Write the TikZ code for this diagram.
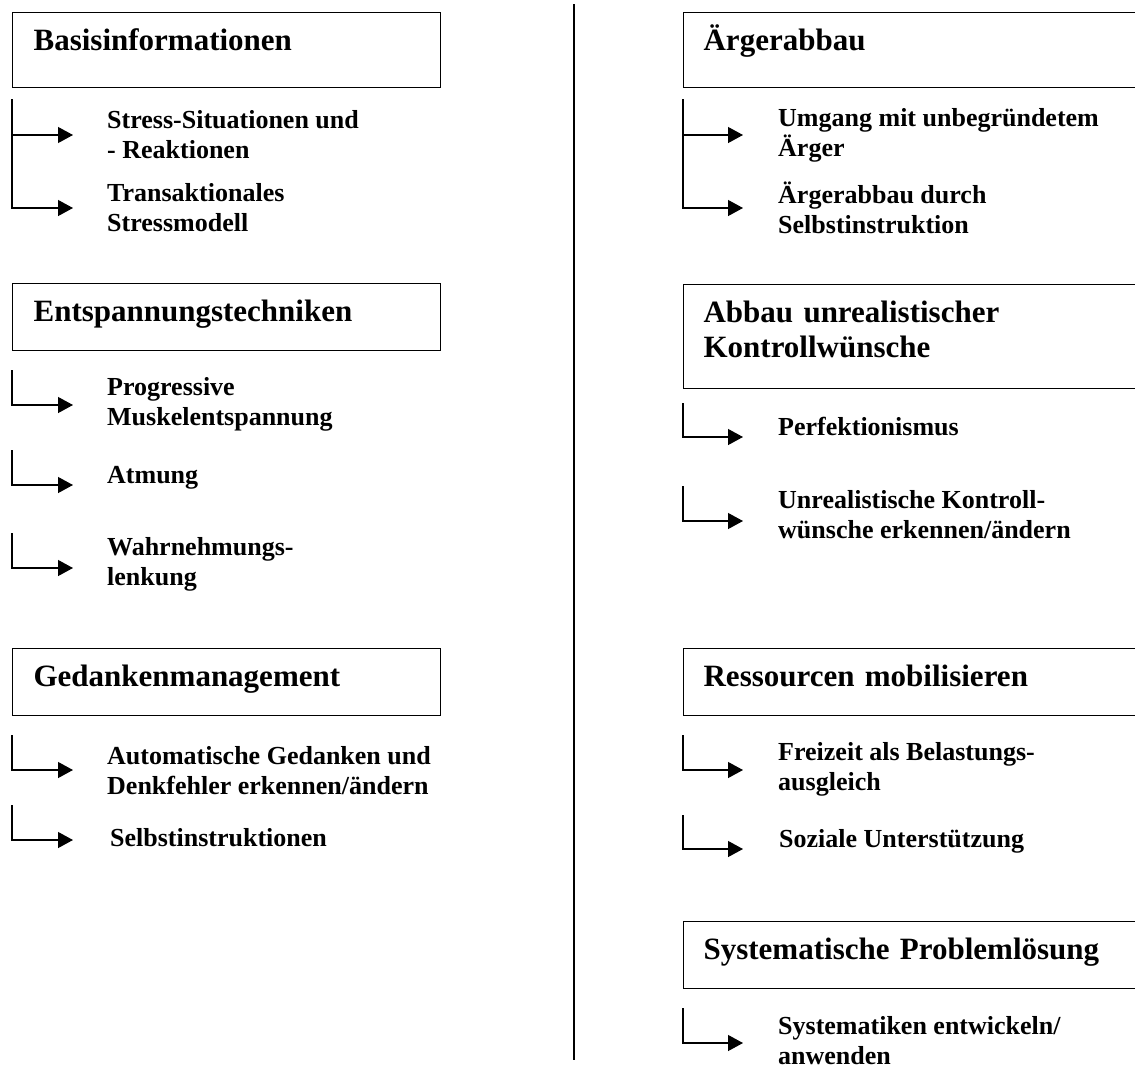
\documentclass[tikz,border=0pt]{standalone}
\usepackage{fontspec}
\setmainfont{Liberation Serif}
\usetikzlibrary{arrows.meta}
\begin{document}
\begin{tikzpicture}[x=1pt,y=-1pt,
  hbox/.style={draw, line width=1.2pt, anchor=north west, align=left, inner ysep=0pt,
    text height=38pt, font=\fontsize{31}{35}\selectfont\bfseries},
  lbox/.style={hbox, inner xsep=21pt, text width=386pt},
  rbox/.style={hbox, inner xsep=20pt, text width=440pt},
  sub/.style={align=left, inner sep=0pt, font=\fontsize{26}{30}\selectfont\bfseries},
  conn/.style={line width=1.2pt, -{Triangle[length=15pt,width=16pt]}},
  divider/.style={line width=1.3pt}]
\clip (0,0) rectangle (1135,1066);
\fill[white] (0,0) rectangle (1135,1066);

% ---------- left column ----------
\node[lbox, text depth=37pt] (b1) at (12,12) {Basisinformationen};
\node[lbox, text depth=29pt] (b2) at (12,283) {Entspannungstechniken};
\node[lbox, text depth=29pt] (b3) at (12,648) {Gedankenmanagement};

\node[sub, anchor=west] (s1) at (107,135) {Stress-Situationen und\\- Reaktionen};
\node[sub, anchor=west] (s2) at (107,208) {Transaktionales\\Stressmodell};
\node[sub, anchor=west] (s3) at (107,404) {Progressive\\Muskelentspannung};
\node[sub, anchor=base west] (s4) at (107,483) {Atmung};
\node[sub, anchor=west] (s5) at (107,564) {Wahrnehmungs-\\lenkung};
\node[sub, anchor=west] (s6) at (107,771) {Automatische Gedanken und\\Denkfehler erkennen/ändern};
\node[sub, anchor=base west] (s7) at (110,846) {Selbstinstruktionen};

\coordinate (c1) at (12,99);
\coordinate (c3) at (12,370);
\coordinate (c4) at (12,450);
\coordinate (c5) at (12,533);
\coordinate (c6) at (12,735);
\coordinate (c7) at (12,805);

\draw[conn] (c1) |- ([xshift=-34pt]s1.west);
\draw[conn] (c1) |- ([xshift=-34pt]s2.west);
\draw[conn] (c3) |- ([xshift=-34pt,yshift=-1pt]s3.west);
\draw[conn] (c4) |- ([xshift=-34pt,yshift=-2pt]s4.base west);
\draw[conn] (c5) |- ([xshift=-34pt,yshift=-4pt]s5.west);
\draw[conn] (c6) |- ([xshift=-34pt,yshift=1pt]s6.west);
\draw[conn] (c7) |- ([xshift=-37pt,yshift=6pt]s7.base west);

% ---------- divider ----------
\coordinate (dtop) at (574,4);
\coordinate (dbot) at (574,1060);
\draw[divider] (dtop) -- (dbot);

% ---------- right column ----------
\node[rbox, text depth=37pt] (r1b) at (683,12) {Ärgerabbau};
\node[rbox, text depth=66pt] (r2b) at (683,284) {Abbau unrealistischer\\Kontrollwünsche};
\node[rbox, text depth=29pt] (r3b) at (683,648) {Ressourcen mobilisieren};
\node[rbox, text depth=29pt] (r4b) at (683,921) {Systematische Problemlösung};

\node[sub, anchor=west] (r1) at (778,135) {Umgang mit unbegründetem\\Ärger};
\node[sub, anchor=west] (r2) at (778,208) {Ärgerabbau durch\\Selbstinstruktion};
\node[sub, anchor=base west] (r3) at (778,435) {Perfektionismus};
\node[sub, anchor=west] (r4) at (778,515) {Unrealistische Kontroll-\\wünsche erkennen/ändern};
\node[sub, anchor=west] (r5) at (778,769) {Freizeit als Belastungs-\\ausgleich};
\node[sub, anchor=base west] (r6) at (779,847) {Soziale Unterstützung};
\node[sub, anchor=west] (r7) at (778,1041) {Systematiken entwickeln/\\anwenden};

\coordinate (e1) at (683,99);
\coordinate (e3) at (683,403);
\coordinate (e4) at (683,486);
\coordinate (e5) at (683,735);
\coordinate (e6) at (683,815);
\coordinate (e7) at (683,1008);

\draw[conn] (e1) |- ([xshift=-35pt]r1.west);
\draw[conn] (e1) |- ([xshift=-35pt]r2.west);
\draw[conn] (e3) |- ([xshift=-35pt,yshift=-2pt]r3.base west);
\draw[conn] (e4) |- ([xshift=-35pt,yshift=-6pt]r4.west);
\draw[conn] (e5) |- ([xshift=-35pt,yshift=-1pt]r5.west);
\draw[conn] (e6) |- ([xshift=-36pt,yshift=-2pt]r6.base west);
\draw[conn] (e7) |- ([xshift=-35pt,yshift=-2pt]r7.west);
\end{tikzpicture}
\end{document}
